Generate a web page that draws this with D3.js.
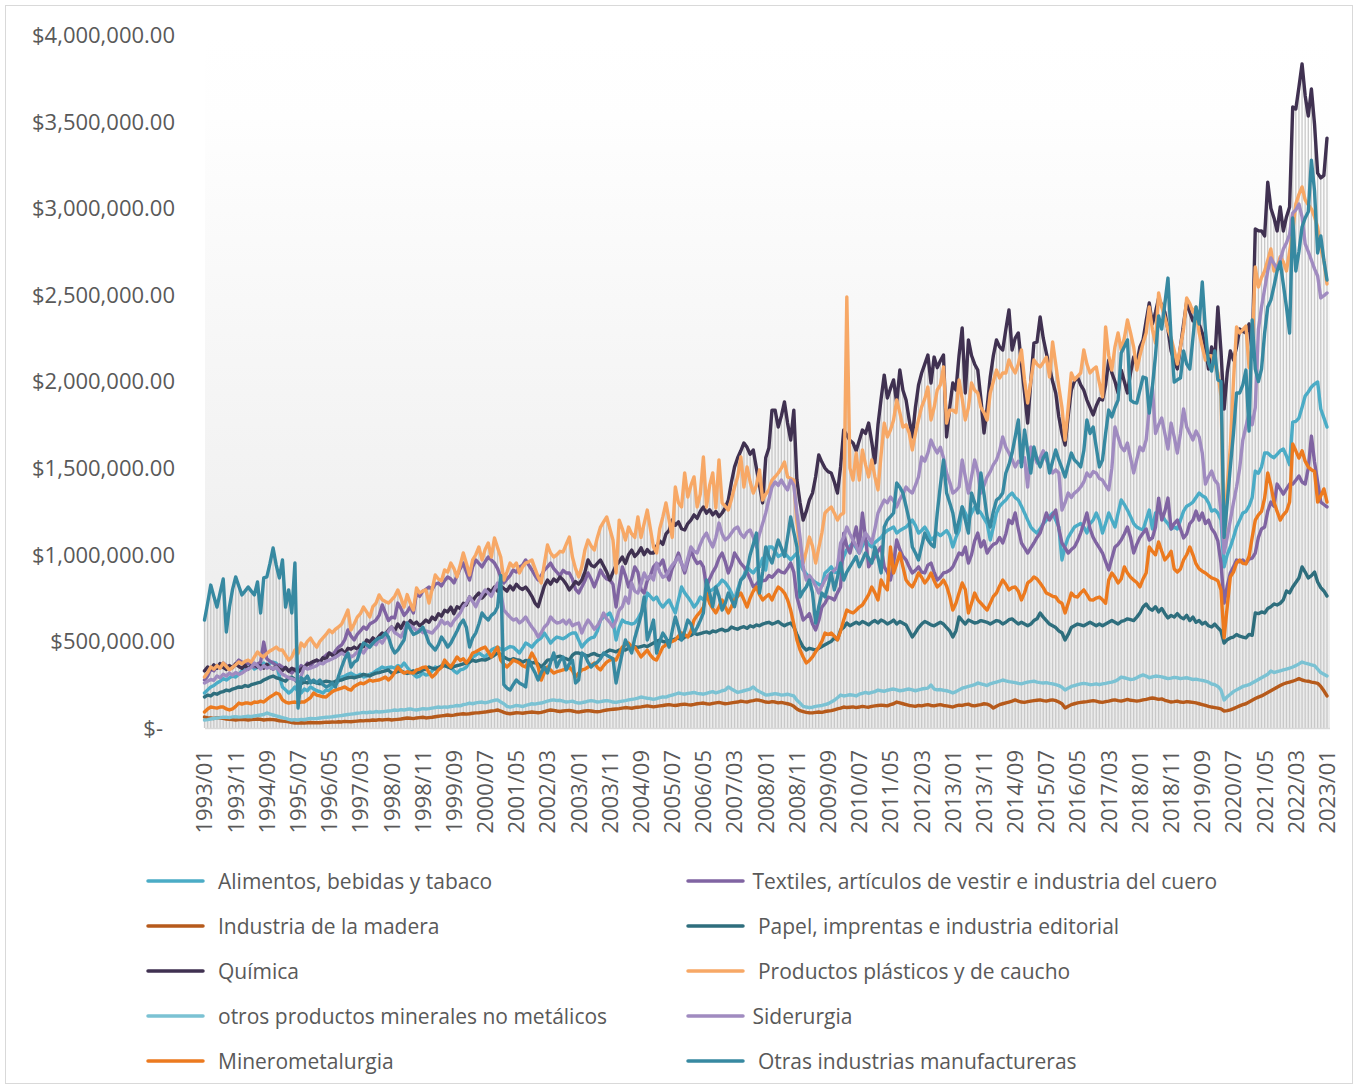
<!DOCTYPE html>
<html><head><meta charset="utf-8">
<script src="https://cdn.jsdelivr.net/npm/d3@7"></script>
<style>
html,body{margin:0;padding:0;background:#fff;}
svg{display:block;font-family:"Open Sans",sans-serif;}
</style></head><body>
<svg id="chart" width="1358" height="1089"></svg>
<script>
// Values in thousands of pesos, monthly 1993/01 .. 2023/01
const UNIT = 1000;
const alimentos = [
202,220,237,245,260,270,285,277,290,300,294,310,
330,352,345,360,340,352,365,375,360,375,380,375,
300,237,220,202,215,237,210,202,225,215,237,225,
215,210,202,220,215,237,250,270,294,300,310,317,
305,300,310,294,300,310,317,330,340,352,345,350,
352,345,360,352,375,350,330,310,294,300,317,305,
310,330,352,340,360,375,360,350,330,317,335,340,
352,380,410,420,433,420,410,430,450,460,467,455,
450,460,470,467,450,433,460,490,480,467,490,508,
520,548,520,490,510,525,520,515,525,540,548,548,
508,467,490,508,520,525,560,623,640,650,664,620,
508,580,623,610,606,600,606,630,664,700,779,760,
740,756,720,698,720,739,700,664,740,814,780,756,
730,698,720,756,740,779,790,800,814,830,854,840,
814,780,739,800,854,880,930,910,895,920,930,980,
912,1045,1045,1020,990,1000,1010,990,970,990,1010,950,
912,890,870,854,840,830,820,895,910,930,900,895,
930,990,1030,1050,1068,1040,1010,1050,1085,1060,1045,1070,
1085,1100,1125,1140,1150,1160,1125,1140,1150,1160,1180,1200,
1170,1125,1140,1160,1130,1085,1100,1125,1110,1125,1140,1110,
1045,1100,1140,1276,1241,1200,1240,1276,1260,1241,1210,1180,
1085,1160,1241,1280,1300,1316,1340,1356,1330,1316,1280,1241,
1200,1160,1140,1125,1150,1180,1200,1220,1241,1200,1160,970,
1050,1100,1130,1160,1170,1180,1160,1125,1180,1200,1241,1200,
1125,1180,1241,1200,1160,1240,1316,1290,1258,1220,1180,1160,
1150,1143,1200,1258,1149,1241,1252,1230,1200,1180,1149,1160,
1149,1200,1252,1280,1290,1304,1330,1356,1340,1330,1300,1252,
1260,1241,1200,930,1000,1045,1100,1160,1200,1241,1250,1280,
1330,1483,1470,1507,1587,1587,1570,1560,1580,1600,1610,1570,
1520,1766,1770,1789,1850,1916,1940,1968,1985,1997,1841,1790,
1737];
const textiles = [
277,300,340,330,360,345,375,360,350,352,370,392,
380,365,375,360,352,370,380,496,400,385,375,360,
365,352,345,330,317,340,330,360,345,375,360,380,
392,380,405,420,433,420,445,467,480,510,566,530,
508,540,560,583,570,600,610,623,650,710,664,620,
640,635,721,690,650,670,700,664,779,760,790,800,
814,800,830,837,820,850,872,860,837,880,920,952,
900,854,930,970,950,930,960,987,970,952,920,870,
837,860,880,912,900,930,940,970,940,912,880,854,
880,912,930,952,920,900,880,910,895,895,860,800,
780,814,850,895,860,814,860,912,880,860,854,830,
698,820,930,880,814,860,930,900,800,779,850,880,
930,950,940,970,900,854,920,960,1010,950,895,960,
1027,980,950,960,930,814,860,900,930,980,1010,960,
895,940,1010,980,950,930,900,860,814,830,850,850,
854,880,870,890,912,900,895,920,952,900,756,690,
623,640,660,600,566,620,698,720,756,750,739,780,
814,1125,1050,1010,1080,1160,1045,1241,1100,930,960,990,
1020,1045,930,900,854,950,1085,1030,990,970,930,895,
910,930,900,895,940,952,900,854,870,895,900,910,
930,970,1010,1000,1045,952,1000,1080,1125,1045,1080,1010,
1040,1060,1068,1100,1068,1120,1200,1180,1241,1150,1068,1040,
1010,1040,1068,1100,1125,1180,1241,1200,1230,1258,1150,1068,
1040,1010,1030,1045,1080,1125,1180,1241,1150,1100,1068,1040,
1010,960,912,980,1045,1060,1085,1120,1160,1100,1010,1060,
1100,1125,1149,1085,1097,1160,1327,1200,1250,1327,1149,1180,
1200,1150,1097,1120,1180,1200,1252,1200,1241,1180,1200,1150,
1125,1080,952,721,820,895,930,970,960,970,950,975,
980,1010,1100,1149,1160,1252,1304,1280,1408,1380,1350,1380,
1408,1408,1430,1455,1420,1408,1500,1685,1535,1420,1304,1290,
1276];
const madera = [
63,60,58,55,60,58,56,52,50,48,46,48,
50,48,46,48,50,52,50,46,48,50,48,46,
42,40,38,35,32,29,28,30,29,30,32,30,
31,30,32,34,33,35,34,36,35,38,37,36,
38,40,42,41,44,43,46,45,48,46,48,50,
46,48,50,52,55,58,56,54,58,60,62,58,
60,62,65,68,70,72,75,72,74,78,80,82,
80,82,85,87,88,90,92,95,98,100,104,98,
90,85,82,85,88,87,85,88,90,92,90,88,
90,95,100,104,102,98,95,98,100,102,98,94,
92,95,98,100,98,95,94,96,100,104,106,108,
110,112,115,118,116,114,118,120,122,125,128,125,
122,125,128,130,133,135,132,130,133,136,138,135,
133,136,140,142,144,140,138,142,145,148,144,140,
142,145,148,150,155,152,150,155,158,162,160,155,
150,148,152,150,145,148,144,140,135,125,110,100,
95,90,88,87,90,92,90,95,98,100,105,110,
115,121,118,120,122,118,121,125,122,120,125,128,
130,132,130,128,135,140,150,145,140,135,130,128,
125,130,128,132,135,130,128,132,135,130,128,125,
121,128,132,130,135,138,130,128,132,135,140,138,
130,115,125,135,140,145,150,155,162,155,150,148,
152,155,158,160,162,158,155,160,162,158,150,140,
115,125,135,140,145,148,150,152,155,158,155,150,
148,152,155,160,162,158,155,160,165,160,158,155,
158,162,165,170,173,170,165,168,160,155,150,152,
155,150,148,152,150,148,145,140,135,130,125,121,
118,115,110,98,100,105,112,120,128,135,140,150,
160,170,178,185,195,205,215,225,235,245,254,260,
265,270,277,285,277,272,270,265,262,258,240,215,
185];
const papel = [
179,190,185,200,195,205,210,219,215,225,230,237,
235,245,240,250,255,260,265,277,285,294,300,290,
285,277,270,290,294,280,260,255,265,260,270,265,
260,255,265,270,268,262,270,275,277,285,290,294,
290,295,300,310,305,300,310,317,320,325,330,335,
317,320,325,330,322,315,320,330,317,325,335,340,
352,345,340,350,355,360,352,345,355,360,365,370,
375,380,392,385,390,395,392,400,410,420,433,425,
410,400,392,400,395,392,380,390,385,375,380,370,
352,370,392,395,400,410,415,405,400,392,420,433,
433,425,420,415,425,430,420,415,425,440,450,445,
440,450,455,450,460,467,470,465,470,475,470,480,
490,500,508,500,495,505,508,515,520,510,525,530,
535,548,540,545,550,555,548,560,555,565,570,560,
565,583,575,570,580,585,575,590,583,595,590,600,
606,610,600,606,615,600,590,600,606,583,540,500,
467,450,460,455,450,460,470,480,490,500,520,510,
566,580,606,590,600,610,600,615,606,595,610,620,
606,623,615,600,610,623,600,615,605,595,560,525,
550,580,600,615,606,595,590,600,610,600,580,560,
525,560,641,620,600,623,615,606,610,620,615,610,
600,610,620,615,600,610,625,630,615,600,610,600,
590,600,620,630,664,640,620,600,590,580,560,550,
508,540,580,590,600,595,590,600,610,600,590,600,
590,600,610,620,610,600,615,620,630,625,620,640,
664,698,716,690,680,700,670,690,660,635,650,640,
660,640,630,650,620,640,610,620,600,610,590,583,
600,580,560,490,510,520,525,540,530,525,520,540,
535,664,660,670,664,690,700,716,710,720,740,791,
780,814,840,866,930,900,866,880,900,843,810,791,
762];
const quimica = [
330,352,340,365,345,372,350,338,360,348,370,355,
345,362,340,358,370,352,360,345,368,350,340,355,
340,332,350,328,345,335,322,340,352,368,375,385,
392,380,405,398,433,420,410,440,452,430,460,455,
467,455,480,470,508,495,520,505,530,548,540,566,
583,560,600,575,610,590,620,598,612,590,605,623,
610,640,625,660,645,680,670,698,660,700,690,720,
710,756,735,760,779,750,770,800,785,814,790,820,
805,790,820,797,830,810,800,814,790,760,721,700,
760,820,854,830,860,845,872,855,830,797,820,845,
830,854,900,970,940,930,950,970,935,900,854,900,
940,960,987,950,1000,1027,990,1010,1040,1000,1030,1010,
1010,1050,1080,1060,1120,1140,1200,1170,1190,1150,1143,1180,
1200,1230,1210,1250,1276,1240,1260,1230,1250,1220,1241,1270,
1316,1420,1507,1560,1600,1645,1620,1580,1605,1500,1400,1299,
1560,1616,1835,1835,1737,1800,1882,1760,1662,1835,1431,1300,
1200,1250,1316,1356,1450,1576,1535,1500,1480,1472,1420,1356,
1507,1720,1690,1660,1645,1600,1660,1720,1700,1760,1650,1530,
1750,1900,2037,1905,1960,2009,1876,2066,1950,1893,1780,1680,
1850,1980,2049,2100,2153,1991,2141,2080,2120,2153,1680,1850,
1991,1951,2150,2309,1934,2240,2150,2100,2066,1900,1703,1850,
2026,2150,2240,2200,2182,2300,2413,2182,2250,2280,2100,1934,
1760,2000,2222,2228,2372,2250,2164,2080,2000,1934,1795,1700,
1633,1800,1951,2000,2026,1980,1950,1893,1850,1807,1860,1900,
1893,1980,2124,2050,2000,1934,2066,2000,1934,2050,2141,2100,
2200,2240,2350,2453,2332,2400,2482,2440,2400,2300,2176,2120,
2072,2200,2332,2459,2400,2350,2378,2330,2280,2200,2072,2199,
2124,2430,2176,1841,2050,2176,2124,2200,2303,2290,2280,2332,
2176,2880,2870,2869,2840,3151,3000,2944,2869,3007,2869,2950,
3007,3584,3573,3700,3833,3650,3532,3688,3486,3203,3175,3190,
3405];
const plasticos = [
294,320,352,340,360,345,375,355,335,350,365,381,
370,385,392,380,410,439,420,410,430,445,455,467,
450,450,420,392,410,450,430,490,470,500,519,490,
467,500,520,540,566,550,570,583,600,640,681,566,
600,640,660,698,670,641,700,720,768,740,730,721,
739,760,797,750,698,770,720,681,808,780,790,797,
721,800,883,860,850,912,900,952,920,872,940,1010,
950,883,970,1000,1045,970,1030,1068,987,1097,1040,987,
854,900,952,930,952,895,930,952,960,970,920,872,
837,950,1056,1010,987,1000,1020,1016,1060,1102,987,920,
872,930,1027,1085,1050,1027,1100,1160,1190,1218,1150,1085,
895,1200,1150,1085,1160,1120,1100,1218,1100,1180,1258,1150,
1045,1010,1150,1218,1299,1200,1100,1391,1300,1276,1472,1333,
1400,1449,1276,1350,1564,1276,1400,1472,1270,1547,1299,1280,
1258,1320,1391,1450,1564,1391,1507,1420,1356,1400,1489,1316,
1350,1374,1431,1450,1472,1500,1535,1449,1440,1431,1183,1050,
952,1020,1102,1050,952,1040,1125,1241,1260,1276,1240,1200,
1230,1241,2488,1500,1431,1587,1431,1605,1520,1449,1547,1450,
1374,1580,1760,1680,1720,1778,1893,1820,1737,1750,1703,1605,
1700,1780,1853,1900,1968,1778,1850,1951,1980,2084,1760,1835,
1835,1820,2009,1900,1778,1850,1991,1950,1934,1850,1820,1778,
1934,2000,2066,2020,2050,2049,2124,2080,2049,2100,2182,2009,
1876,2000,2124,2100,2084,2110,2140,2026,2228,2100,1968,1850,
1662,1850,2049,2009,2030,2049,2182,2100,2049,2070,2084,1990,
1911,2315,2150,2066,2200,2280,2182,2250,2355,2280,2199,2066,
2150,2220,2280,2430,2300,2222,2511,2430,2370,2300,2251,2180,
2101,2200,2303,2482,2450,2400,2430,2280,2200,2124,2150,2147,
2100,2049,1916,1050,1400,1622,2000,2315,2280,2300,2320,2080,
2200,2661,2545,2600,2638,2700,2765,2638,2660,2720,2690,2638,
2750,2869,3024,3080,3123,3048,3020,2996,2950,2892,2765,2700,
2563];
const minerales = [
46,48,52,55,58,60,63,62,60,64,66,63,
64,66,68,65,70,72,75,78,87,80,75,70,
65,60,55,50,46,48,46,50,48,52,55,54,
55,58,60,62,63,65,68,70,72,75,78,80,
82,85,87,90,88,92,90,95,92,94,96,98,
100,104,102,106,104,108,110,106,104,108,112,110,
112,115,118,121,119,122,120,124,126,130,128,135,
138,144,140,145,148,150,145,150,155,160,162,150,
140,125,121,125,130,128,124,130,135,140,138,142,
144,150,155,160,162,158,160,155,150,152,155,148,
144,146,150,155,158,155,150,152,156,158,155,150,
148,152,155,158,162,165,168,172,179,175,172,170,
165,170,175,180,178,185,190,195,202,198,195,200,
202,205,200,198,195,200,205,210,202,208,215,219,
237,225,215,205,210,215,220,225,237,220,210,200,
190,192,195,198,195,190,192,195,190,185,160,144,
125,121,118,120,125,128,130,135,140,150,160,175,
190,185,188,192,190,185,195,200,205,200,205,210,
219,215,212,218,222,225,220,215,218,222,225,220,
215,220,225,228,230,248,225,220,222,218,215,210,
202,210,220,230,235,240,245,250,260,255,250,245,
255,260,265,270,277,272,268,265,262,258,255,260,
265,268,270,265,262,260,262,258,255,250,245,235,
219,230,240,245,250,255,258,255,250,252,255,250,
255,258,262,265,270,280,294,290,285,280,282,290,
300,306,300,290,295,300,298,295,290,285,288,292,
290,285,288,290,285,280,282,278,275,270,265,254,
250,240,220,162,180,195,210,220,230,240,245,250,
260,270,280,290,300,310,329,320,325,330,335,340,
345,352,360,370,381,375,370,365,360,340,320,310,
300];
const siderurgia = [
260,270,280,275,300,290,310,300,317,305,320,310,
317,330,340,350,375,360,340,360,345,352,340,352,
330,310,300,290,285,277,290,300,352,340,345,352,
360,375,370,385,392,400,410,420,433,420,430,410,
420,440,450,433,460,470,490,480,510,490,520,560,
583,550,540,525,560,606,590,580,560,570,550,560,
555,548,570,590,623,600,610,590,620,640,664,700,
720,756,730,700,740,770,797,780,760,800,837,780,
681,660,640,623,630,606,620,641,610,583,560,525,
550,583,600,641,620,606,610,623,600,623,590,600,
606,548,590,623,600,570,590,620,664,630,610,583,
620,681,700,756,720,837,790,779,830,895,860,880,
854,952,900,870,880,912,940,960,987,950,912,980,
1045,1020,1010,1060,1100,1125,1080,1045,1100,1183,1120,1085,
1100,1125,1150,1160,1120,1100,1130,1143,1100,1045,1120,1180,
1241,1320,1391,1420,1400,1431,1400,1374,1431,1400,1241,1100,
930,854,880,854,820,779,820,854,880,895,910,930,
1068,1100,1160,1120,1085,1050,1010,1080,1125,1100,1068,1150,
1241,1280,1316,1300,1333,1310,1276,1320,1350,1391,1370,1356,
1400,1450,1564,1540,1587,1662,1620,1587,1620,1560,1472,1420,
1356,1370,1391,1547,1450,1356,1450,1547,1480,1356,1400,1450,
1480,1520,1547,1600,1680,1620,1587,1550,1507,1540,1530,1560,
1391,1622,1580,1530,1560,1600,1547,1510,1472,1490,1472,1258,
1300,1356,1330,1356,1370,1391,1420,1472,1450,1480,1472,1440,
1431,1400,1374,1500,1737,1680,1622,1600,1645,1560,1472,1550,
1622,1600,1662,1841,1968,1700,1750,1789,1700,1610,1760,1680,
1587,1700,1841,1737,1700,1662,1714,1680,1587,1408,1450,1483,
1431,1408,1252,1010,1100,1200,1300,1391,1500,1662,1740,1818,
1750,1850,2300,2430,2534,2638,2713,2680,2650,2700,2765,2800,
2850,2973,2990,3024,2950,2794,2750,2700,2650,2609,2482,2495,
2511];
const minerometalurgia = [
92,110,121,118,115,121,121,110,104,110,125,144,
138,144,144,140,150,148,155,150,165,179,190,202,
195,162,150,144,148,150,145,150,150,162,175,202,
190,185,180,179,195,210,219,225,230,237,225,219,
240,250,260,255,265,277,270,275,277,285,294,277,
294,320,352,330,317,325,320,317,335,340,350,352,
320,294,310,335,350,392,370,352,380,410,390,400,
375,400,433,440,450,460,467,440,410,440,467,392,
370,352,370,392,385,375,360,352,390,433,400,352,
277,320,352,335,317,325,330,335,340,352,330,294,
317,335,340,352,360,375,350,335,360,380,392,400,
392,430,467,480,490,470,467,440,410,430,450,420,
400,392,430,467,480,490,500,508,530,548,540,525,
560,623,650,670,698,779,720,690,664,700,739,700,
664,700,739,760,779,740,698,750,790,814,770,739,
756,770,739,780,814,800,779,740,681,600,508,450,
410,375,390,410,440,467,500,548,540,548,530,508,
560,623,681,670,664,680,698,710,739,770,814,780,
739,854,820,797,1045,895,950,1010,930,854,830,814,
850,895,870,837,860,895,850,814,830,854,820,760,
681,720,779,837,800,664,720,779,740,720,700,681,
720,760,779,820,854,830,797,810,814,790,739,780,
837,850,872,860,837,810,779,770,760,756,730,720,
664,720,779,760,756,780,797,770,740,739,750,756,
740,720,854,895,870,837,860,930,895,870,854,840,
814,860,895,1045,1020,1000,1074,1020,970,990,1020,918,
900,918,970,1000,1045,1000,947,918,905,895,880,866,
860,850,797,520,700,872,900,952,970,950,947,990,
1100,1200,1230,1250,1327,1472,1400,1304,1250,1200,1230,1250,
1304,1639,1600,1558,1600,1540,1507,1490,1480,1304,1340,1380,
1304];
const otras = [
623,720,825,760,698,780,860,554,698,800,872,820,
768,790,814,790,768,843,664,866,872,950,1039,940,
866,970,698,797,664,952,115,290,277,300,260,277,
260,277,250,237,245,260,237,300,352,400,433,352,
380,392,450,490,480,467,490,508,520,525,548,525,
467,433,450,480,508,606,570,540,548,560,583,540,
490,470,450,480,525,500,467,490,525,560,600,623,
580,467,520,548,600,664,640,623,650,664,698,880,
250,230,219,250,277,260,250,237,392,352,320,277,
320,352,317,380,433,352,390,410,335,370,392,260,
277,433,420,380,352,370,380,400,433,420,410,400,
260,350,433,508,470,433,520,583,650,756,508,560,
623,433,500,548,520,467,560,641,580,508,560,623,
600,548,580,620,664,854,780,700,814,760,681,720,
779,740,700,780,854,870,912,1000,1060,1125,779,900,
1045,990,952,1020,1085,1040,990,1100,1218,1130,1045,756,
790,814,854,780,606,700,779,756,820,895,797,870,
952,854,900,930,960,990,930,970,1010,980,952,1045,
980,895,1160,1200,1220,1241,1414,1390,1356,1280,1200,1045,
1010,970,1050,1125,1085,1060,1045,1241,1400,1547,1356,1300,
1241,1125,1200,1276,1200,1125,1356,1300,1241,1472,1350,1218,
1160,1250,1316,1330,1356,1472,1520,1587,1680,1778,1507,1720,
1600,1472,1622,1550,1507,1560,1587,1472,1540,1605,1547,1500,
1449,1520,1587,1547,1530,1507,1600,1778,1700,1737,1620,1507,
1547,1700,1835,1795,1850,1893,2164,2200,2240,1893,1880,1876,
1950,2026,2020,1818,1968,2150,2378,2303,2450,2597,2251,1997,
2010,2020,2176,2100,2072,2250,2430,2332,2574,2300,2107,2060,
2176,2009,2000,1100,1300,1507,1700,1934,1934,1980,2066,1714,
2355,2072,2000,2072,2280,2430,2470,2550,2638,2690,2560,2430,
2280,2944,2638,2750,2892,2944,2980,3278,3100,2742,2840,2700,
2586];

const seriesNames = [
  "Alimentos, bebidas y tabaco",
  "Textiles, artículos de vestir e industria del cuero",
  "Industria de la madera",
  " Papel, imprentas e industria editorial",
  "Química",
  " Productos plásticos y de caucho",
  "otros productos minerales no metálicos",
  "Siderurgia",
  "Minerometalurgia",
  " Otras industrias manufactureras"
];
const seriesValues = [alimentos, textiles, madera, papel, quimica, plasticos, minerales, siderurgia, minerometalurgia, otras];
const tickLabels = ["1993/01","1993/11","1994/09","1995/07","1996/05","1997/03","1998/01","1998/11","1999/09","2000/07","2001/05","2002/03","2003/01","2003/11","2004/09","2005/07","2006/05","2007/03","2008/01","2008/11","2009/09","2010/07","2011/05","2012/03","2013/01","2013/11","2014/09","2015/07","2016/05","2017/03","2018/01","2018/11","2019/09","2020/07","2021/05","2022/03","2023/01"];
const yTicks = [0,500000,1000000,1500000,2000000,2500000,3000000,3500000,4000000];

// categories: months 1993/01 .. 2023/01
const months = [];
for (let y = 1993; y <= 2023; y++) for (let m = 1; m <= 12; m++) {
  if (y === 2023 && m > 1) break;
  months.push(y + "/" + String(m).padStart(2, "0"));
}

// styles
const colors = ["#4BACC6","#8064A2","#B65A1B","#2E6E7D","#403151","#F7A866","#7BC2D3","#A08BC0","#EC7A1F","#3789A1"];
const textColor = "#595959";

const svg = d3.select("#chart");
const plot = {left: 205, right: 1330, top: 35, bottom: 728};

const x = d3.scalePoint().domain(months).range([204.5, 1327]);
const y = d3.scaleLinear().domain([0, 4000000]).range([plot.bottom, plot.top]);

// outer border
svg.append("rect").attr("x", 5.5).attr("y", 5.5).attr("width", 1347).attr("height", 1078)
  .attr("fill", "#fff").attr("stroke", "#d9d9d9").attr("stroke-width", 1);

// plot area gradient
const defs = svg.append("defs");
const grad = defs.append("linearGradient").attr("id", "pg").attr("x1", 0).attr("y1", 0).attr("x2", 0).attr("y2", 1);
grad.append("stop").attr("offset", "0%").attr("stop-color", "#ffffff");
grad.append("stop").attr("offset", "12%").attr("stop-color", "#fefefe");
grad.append("stop").attr("offset", "100%").attr("stop-color", "#eaeaea");
svg.append("rect").attr("x", plot.left).attr("y", plot.top)
  .attr("width", plot.right - plot.left).attr("height", plot.bottom - plot.top)
  .attr("fill", "url(#pg)");

// drop / high-low lines
const maxes = months.map((m, i) => d3.max(seriesValues, s => s[i]) * UNIT);
svg.append("g").selectAll("line").data(months).join("line")
  .attr("x1", d => x(d)).attr("x2", d => x(d))
  .attr("y1", y(0)).attr("y2", (d, i) => y(maxes[i]))
  .attr("stroke", "#c8c8c8").attr("stroke-width", 1.3);

// x axis line
svg.append("line").attr("x1", plot.left).attr("x2", plot.right)
  .attr("y1", plot.bottom + 0.5).attr("y2", plot.bottom + 0.5)
  .attr("stroke", "#d9d9d9").attr("stroke-width", 1.5);

// series lines
const line = d3.line().x((d, i) => x(months[i])).y(d => y(d * UNIT));
svg.append("g").selectAll("path").data(seriesValues).join("path")
  .attr("d", d => line(d))
  .attr("fill", "none")
  .attr("stroke", (d, i) => colors[i])
  .attr("stroke-width", 3.4)
  .attr("stroke-linejoin", "round")
  .attr("stroke-linecap", "round");

// y labels
const fmt = v => v === 0 ? "$-" : "$" + d3.format(",.2f")(v);
svg.append("g").selectAll("text").data(yTicks).join("text")
  .attr("x", d => d === 0 ? 163 : 175)
  .attr("y", d => y(d))
  .attr("dy", "0.36em")
  .attr("text-anchor", "end")
  .attr("font-size", 22)
  .attr("fill", textColor)
  .text(fmt);

// x labels
svg.append("g").selectAll("text").data(tickLabels).join("text")
  .attr("transform", d => `translate(${x(d)},750) rotate(-90)`)
  .attr("dy", "0.36em")
  .attr("text-anchor", "end")
  .attr("font-size", 22)
  .attr("fill", textColor)
  .text(d => d);

// legend
const leg = svg.append("g");
seriesNames.forEach((name, i) => {
  const col = i % 2, row = Math.floor(i / 2);
  const lx = col === 0 ? 148 : 688;
  const ly = 881 + row * 45;
  leg.append("line").attr("x1", lx).attr("x2", lx + 55).attr("y1", ly).attr("y2", ly)
    .attr("stroke", colors[i]).attr("stroke-width", 3.5).attr("stroke-linecap", "round");
  leg.append("text").attr("x", lx + (col === 0 ? 70 : 64.5)).attr("y", ly).attr("dy", "0.36em")
    .attr("font-size", 21).attr("fill", textColor)
    .attr("xml:space", "preserve").style("white-space", "pre")
    .text(name);
});
</script>
</body></html>
